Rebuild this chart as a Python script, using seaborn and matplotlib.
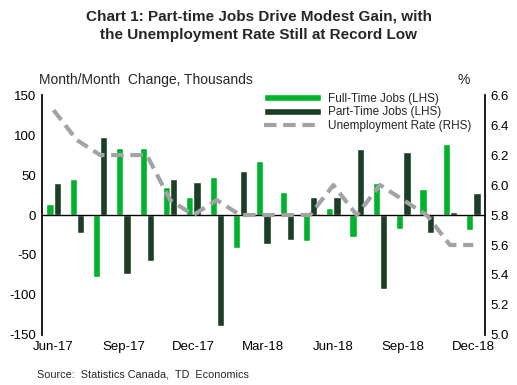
import numpy as np
import pandas as pd
import seaborn as sns
import matplotlib.pyplot as plt

months = ["Jun-17", "Jul-17", "Aug-17", "Sep-17", "Oct-17", "Nov-17", "Dec-17",
          "Jan-18", "Feb-18", "Mar-18", "Apr-18", "May-18", "Jun-18", "Jul-18",
          "Aug-18", "Sep-18", "Oct-18", "Nov-18", "Dec-18"]
full_time = [14, 45, -77, 84, 84, 35, 23, 48, -41, 68, 29, -32, 9, -28, 40, -17, 33, 89, -19]
part_time = [40, -23, 98, -74, -58, 45, 41, -139, 55, -36, -31, 23, 23, 82, -93, 79, -23, 4, 27]
unemp_rate = [6.5, 6.3, 6.2, 6.2, 6.2, 5.9, 5.8, 5.9, 5.8, 5.8, 5.8, 5.8, 6.0, 5.8,
              6.0, 5.9, 5.8, 5.6, 5.6]

sns.set_theme(style="white")
plt.rcParams["font.family"] = ["Liberation Sans", "DejaVu Sans"]
plt.rcParams["axes.unicode_minus"] = False

df = pd.DataFrame({
    "month": months * 2,
    "value": full_time + part_time,
    "series": ["Full-Time Jobs (LHS)"] * len(months) + ["Part-Time Jobs (LHS)"] * len(months),
})

dpi = 100
fig = plt.figure(figsize=(517 / dpi, 385 / dpi), dpi=dpi)
ax = fig.add_axes([0.081, 0.13, 0.857, 0.623])

sns.barplot(data=df, x="month", y="value", hue="series", order=months,
            palette=["#00B32C", "#1A3F24"], width=0.62, gap=0, ax=ax,
            saturation=1, legend=True)

ax2 = ax.twinx()
sns.lineplot(x=np.arange(len(months)), y=unemp_rate, ax=ax2, color="#A3A3A6",
             linewidth=3, linestyle=(0, (3, 1.6)), label="Unemployment Rate (RHS)", legend=False)

ax.set_xlim(-0.5, len(months) - 0.5)
ax.set_ylim(-150, 150)
ax.set_yticks([-150, -100, -50, 0, 50, 100, 150])
ax2.set_ylim(5.0, 6.6)
ax2.set_yticks(np.arange(5.0, 6.61, 0.2))
ax2.set_yticklabels([f"{v:.1f}" for v in np.arange(5.0, 6.61, 0.2)])

ax.set_xticks(range(0, len(months), 3))
ax.set_xticklabels(months[::3])
ax.set_xlabel("")
ax.set_ylabel("")
ax.axhline(0, color="black", linewidth=1)

for a in (ax, ax2):
    a.tick_params(axis="both", length=0, labelsize=9.5, colors="black", pad=4)
    for s in ("top", "bottom"):
        a.spines[s].set_visible(False)
ax.spines["left"].set_color("black")
ax.spines["right"].set_visible(False)
ax2.spines["left"].set_visible(False)
ax2.spines["right"].set_color("black")
ax.grid(False)
ax2.grid(False)

h1, l1 = ax.get_legend_handles_labels()
h2, l2 = ax2.get_legend_handles_labels()
ax.legend(h1 + h2, l1 + l2, loc="upper right", bbox_to_anchor=(0.985, 1.04),
          frameon=False, fontsize=8.5, handlelength=4.8, handleheight=0.5,
          handletextpad=0.6, labelspacing=0.15, borderaxespad=0.2)

fig.text(0.5, 0.975, "Chart 1: Part-time Jobs Drive Modest Gain, with\nthe Unemployment Rate Still at Record Low",
         ha="center", va="top", fontsize=11, fontweight="bold", linespacing=1.4)
fig.text(0.076, 0.775, "Month/Month  Change, Thousands", ha="left", va="bottom", fontsize=10)
fig.text(0.885, 0.775, "%", ha="left", va="bottom", fontsize=10)
fig.text(0.072, 0.015, "Source:  Statistics Canada,  TD  Economics", ha="left", va="bottom", fontsize=7.8)

fig.savefig("out.png", dpi=dpi)
